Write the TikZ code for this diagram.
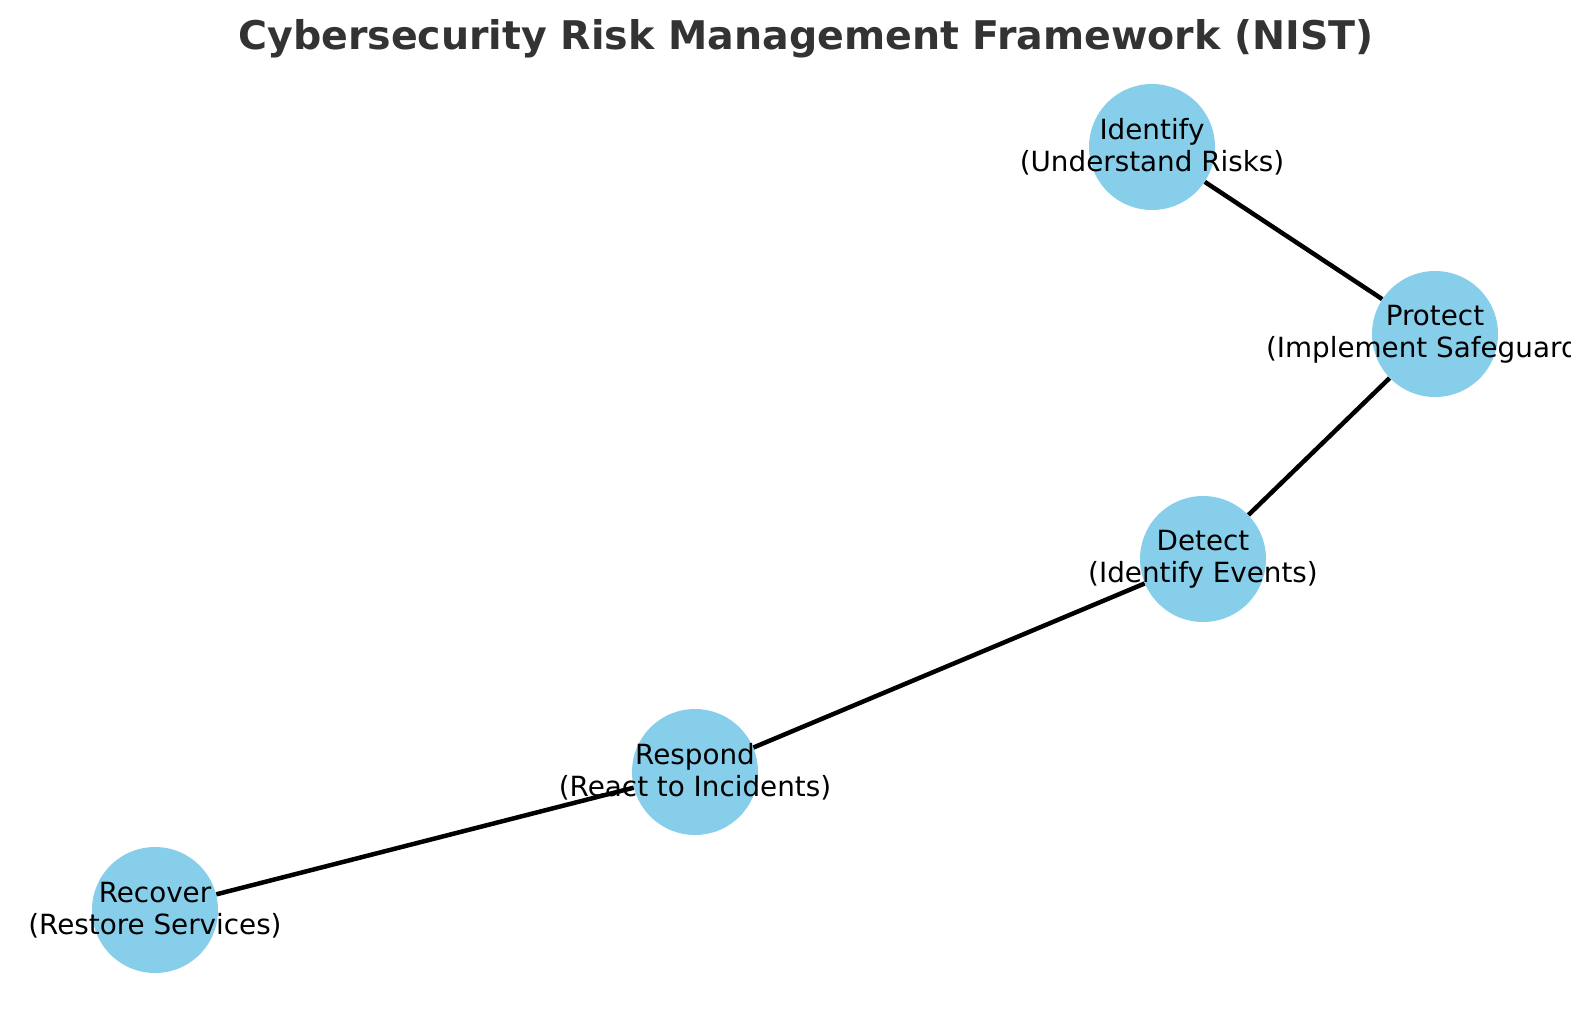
\documentclass[tikz,border=0pt]{standalone}
\usepackage{fontspec}
\setmainfont{DejaVu Sans}
\usepackage{tikz}
\usetikzlibrary{backgrounds}
\usepackage{xcolor}
\definecolor{skyblue}{HTML}{87CEEB}
\definecolor{titlegray}{HTML}{333333}

\begin{document}
\begin{tikzpicture}[x=1pt, y=-1pt,
  stage/.style={circle, fill=skyblue, minimum size=126pt, inner sep=0pt},
  tag/.style={align=center, inner sep=0pt, font=\fontsize{27.8}{32}\selectfont},
  link/.style={line width=4.5pt, black}]
\useasboundingbox (0,0) rectangle (1589,1010);
\node[font=\bfseries\fontsize{39.5}{46}\selectfont, text=titlegray] (title) at (806,39) {Cybersecurity Risk Management Framework (NIST)};
% circles
\node[stage] (identify) at (1152,147) {};
\node[stage] (protect) at (1435,334) {};
\node[stage] (detect) at (1203,559) {};
\node[stage] (respond) at (695,772) {};
\node[stage] (recover) at (155,910) {};
% texts, cut at the plot edge
\begin{scope}
\clip (0,0) rectangle (1570,1010);
\node[tag] (identify-t) at (identify) {Identify\\(Understand Risks)};
\node[tag] (protect-t) at (protect) {Protect\\(Implement Safeguards)};
\node[tag] (detect-t) at (detect) {Detect\\(Identify Events)};
\node[tag] (respond-t) at (respond) {Respond\\(React to Incidents)};
\node[tag] (recover-t) at (recover) {Recover\\(Restore Services)};
\end{scope}
\begin{scope}[on background layer]
\draw[link] (identify) -- (protect);
\draw[link] (protect) -- (detect);
\draw[link] (detect) -- (respond);
\draw[link] (respond) -- (recover);
\end{scope}
\end{tikzpicture}
\end{document}
